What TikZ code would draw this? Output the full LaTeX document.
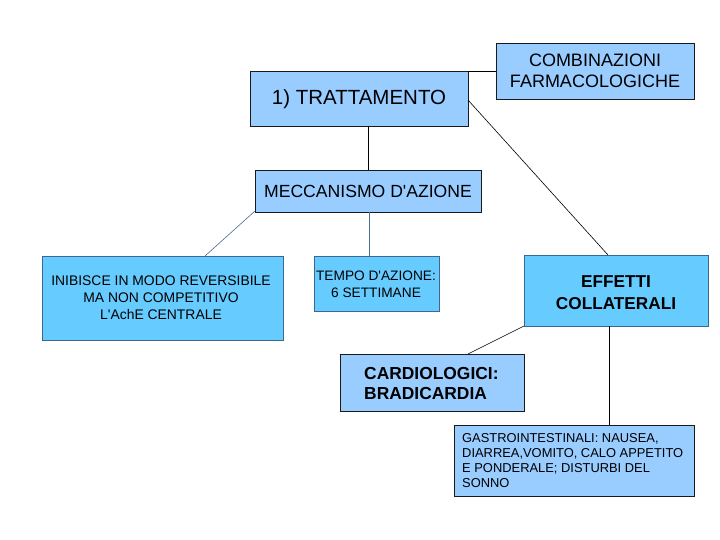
\documentclass[tikz,border=0pt]{standalone}
\usepackage{fontspec}
\setmainfont{Liberation Sans}[Ligatures=TeXOff]
\definecolor{lblue}{HTML}{99CCFF}
\definecolor{cblue}{HTML}{66CCFF}
\definecolor{cedge}{HTML}{3A6890}
\definecolor{bedge}{HTML}{1A1A1A}
\definecolor{lnblue}{HTML}{4A7090}
\begin{document}
\begin{tikzpicture}[x=1pt,y=-1pt,
  lbox/.style={draw=bedge,fill=lblue,line width=0.9pt,inner sep=0pt},
  cbox/.style={draw=cedge,fill=cblue,line width=0.9pt,inner sep=0pt},
  txt/.style={inner sep=0pt,align=center},
  conn/.style={line width=0.6pt,draw=black},
  connb/.style={line width=0.6pt,draw=lnblue}]
\useasboundingbox (0,0) rectangle (720,540);
% boxes
\draw[lbox] (250,71) rectangle (468,126);
\node[txt,font=\fontsize{20.5}{24}\selectfont] (tratt) at (359,99) {1) TRATTAMENTO};
\coordinate (trattTR) at (468,71);
\coordinate (trattR) at (468,100);
\coordinate (trattB) at (368,126);

\draw[lbox] (496,43) rectangle (694,99);
\node[txt,font=\fontsize{18}{21.5}\selectfont] (comb) at (595,71) {COMBINAZIONI\\FARMACOLOGICHE};
\coordinate (combL) at (496,71);

\draw[lbox] (255,170) rectangle (481,212);
\node[txt,font=\fontsize{17.6}{20}\selectfont] (mecc) at (368,191) {MECCANISMO D'AZIONE};
\coordinate (meccT) at (368,170);
\coordinate (meccB) at (369,212);
\coordinate (meccBL) at (255,211);

\draw[cbox] (42,256) rectangle (283,340);
\node[txt,font=\fontsize{13.9}{17}\selectfont] (inib) at (161,298) {INIBISCE IN MODO REVERSIBILE\\MA NON COMPETITIVO\\L'AchE CENTRALE};
\coordinate (inibT) at (205,256);

\draw[cbox] (314,256) rectangle (439,311);
\node[txt,font=\fontsize{13.7}{17}\selectfont] (tempo) at (376,284) {TEMPO D'AZIONE:\\6 SETTIMANE};
\coordinate (tempoT) at (369,256);

\draw[cbox] (524,255) rectangle (708,326);
\node[txt,font=\bfseries\fontsize{17.2}{22}\selectfont] (eff) at (616,292.5) {EFFETTI\\COLLATERALI};
\coordinate (effT) at (608,255);
\coordinate (effBL) at (524,326);
\coordinate (effB) at (609,326);

\draw[lbox] (340,354) rectangle (524,411);
\node[txt,align=left,anchor=west,font=\bfseries\fontsize{17.4}{20}\selectfont] (card) at (364,384) {CARDIOLOGICI:\\BRADICARDIA};
\coordinate (cardT) at (468,354);

\draw[lbox] (454,425) rectangle (694,496);
\node[txt,align=left,anchor=north west,font=\fontsize{12.9}{15}\selectfont] (gastro) at (462,433.5) {GASTROINTESTINALI: NAUSEA,\\DIARREA,VOMITO, CALO APPETITO\\E PONDERALE; DISTURBI DEL\\SONNO};
\coordinate (gastroT) at (609,425);
% connectors
\draw[conn] (trattTR) -- (combL);
\draw[conn] (trattB) -- (meccT);
\draw[conn] (trattR) -- (effT);
\draw[connb] (meccBL) -- (inibT);
\draw[connb] (meccB) -- (tempoT);
\draw[conn] (effBL) -- (cardT);
\draw[conn] (effB) -- (gastroT);
\end{tikzpicture}
\end{document}
